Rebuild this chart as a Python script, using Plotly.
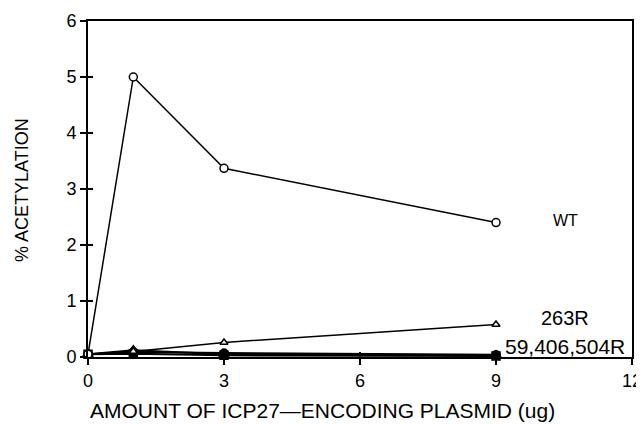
import plotly.graph_objects as go

doses = [0, 1, 3, 9]
wt = [0.05, 5.0, 3.37, 2.4]
r263 = [0.05, 0.10, 0.26, 0.58]
r59 = [0.05, 0.09, 0.07, 0.04]
r406 = [0.05, 0.12, 0.05, 0.03]
r504 = [0.05, 0.06, 0.03, 0.02]

x_ticks = [0, 3, 6, 9, 12]
y_ticks = [0, 1, 2, 3, 4, 5, 6]

FONT = "Liberation Sans, Arial, sans-serif"
OFF = 8  # page body margin
FW, FH = 644 - OFF, 424 - OFF
L, R, T, B = 88 - OFF, 632 - OFF, 21 - OFF, 357 - OFF
W, H = R - L, B - T
fig = go.Figure()

def add(y, symbol, size, fill, lw=1.5):
    fig.add_trace(go.Scatter(
        x=doses, y=y, mode="lines+markers",
        line=dict(color="black", width=lw),
        marker=dict(symbol=symbol, size=size, color=fill,
                    line=dict(color="black", width=1.5)),
        cliponaxis=False, showlegend=False))

add(r504, "square", 8, "black", 2)
add(r59, "circle", 8, "black", 2)
add(r406, "triangle-up", 9, "black", 2)
add(r263, "triangle-up", 7, "white")
add(wt, "circle", 8, "white")

def px_ann(text, px, py, fs, angle=0):
    px, py = px - OFF, py - OFF
    fig.add_annotation(text=text, xref="paper", yref="paper",
                       x=(px - L) / W, y=(B - py) / H, textangle=angle,
                       showarrow=False, font=dict(family=FONT, size=fs, color="black"),
                       xanchor="center", yanchor="middle")

px_ann("WT", 565, 220, 16)
px_ann("263R", 565, 318, 20)
px_ann("59,406,504R", 565, 346, 21)
px_ann("AMOUNT OF ICP27\u2014ENCODING PLASMID (ug)", 322, 410, 21)
px_ann("% ACETYLATION", 22, 190, 18, -90)

axis_common = dict(showgrid=False, zeroline=False, linecolor="black", linewidth=2,
                   ticks="outside", ticklen=6, tickwidth=1.5, tickcolor="black",
                   tickfont=dict(family=FONT, size=18, color="black"), mirror=True,
                   automargin=False)

fig.update_layout(
    width=FW, height=FH,
    margin=dict(l=L, r=FW - R, t=T, b=FH - B, autoexpand=False),
    paper_bgcolor="white", plot_bgcolor="white",
    xaxis=dict(range=[0, 12], tickvals=x_ticks, ticktext=[str(v) for v in x_ticks],
               **axis_common),
    yaxis=dict(range=[0, 6], tickvals=y_ticks, ticktext=[str(v) for v in y_ticks],
               **axis_common),
    xaxis2=dict(range=[0, 12], tickvals=x_ticks, overlaying="x", side="bottom",
                showticklabels=False, showgrid=False, zeroline=False, showline=False,
                ticks="inside", ticklen=5, tickwidth=1.5, tickcolor="black"),
    yaxis2=dict(range=[0, 6], tickvals=y_ticks, overlaying="y", side="left",
                showticklabels=False, showgrid=False, zeroline=False, showline=False,
                ticks="inside", ticklen=5, tickwidth=1.5, tickcolor="black"),
)
fig.add_trace(go.Scatter(x=[None], y=[None], xaxis="x2", yaxis="y2", showlegend=False, hoverinfo="skip"))

fig.write_html("out.html")
